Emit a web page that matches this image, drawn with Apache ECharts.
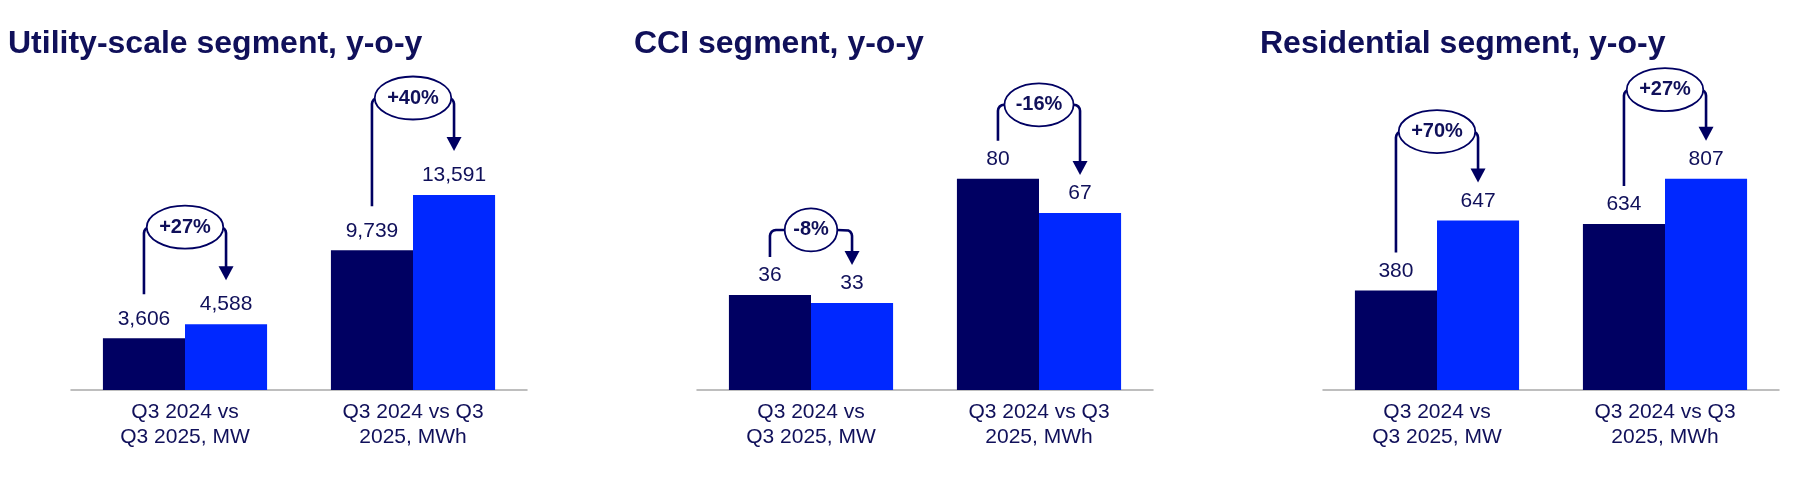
<!DOCTYPE html>
<html>
<head>
<meta charset="utf-8">
<script src="https://cdn.jsdelivr.net/npm/echarts@6/dist/echarts.min.js"></script>
<style>
  html, body { margin: 0; padding: 0; background: #fff; }
  #main { width: 1800px; height: 478px; }
</style>
</head>
<body>
<div id="main"></div>
<script>
// data
const titles = ['Utility-scale segment, y-o-y', 'CCI segment, y-o-y', 'Residential segment, y-o-y'];
const categories = ['Q3 2024 vs\nQ3 2025, MW', 'Q3 2024 vs Q3\n2025, MWh'];
const q3_2024 = [[3606, 9739], [36, 80], [380, 634]];
const q3_2025 = [[4588, 13591], [33, 67], [647, 807]];
const changes = [['+27%', '+40%'], ['-8%', '-16%'], ['+70%', '+27%']];
const yMax = [23000, 125, 1260];

// layout / style
const NAVY = '#000062';
const BLUE = '#0028ff';
const TEXT = '#10105a';
const FONT = "'Liberation Sans', Arial, sans-serif";
const gridLeft = [71, 697, 1323];
const gridW = 456;
const calloutLift = [[97, 97], [65, 74], [89, 89]]; // ellipse centre above taller bar, px
const calloutGap = [44, 38, 38];                    // where lines stop above bar top, px

const chart = echarts.init(document.getElementById('main'));

const grid = [], xAxis = [], yAxis = [], series = [];
for (let p = 0; p < 3; p++) {
  grid.push({ left: gridLeft[p], width: gridW, top: 60, bottom: 88 });
  xAxis.push({
    type: 'category',
    gridIndex: p,
    data: categories,
    axisTick: { show: false },
    axisLine: { lineStyle: { color: '#a9a9a9', width: 1.5 } },
    axisLabel: {
      interval: 0,
      margin: 10,
      fontSize: 21,
      lineHeight: 25,
      color: TEXT,
      fontFamily: FONT
    }
  });
  yAxis.push({ type: 'value', gridIndex: p, min: 0, max: yMax[p], show: false });

  const label = {
    show: true,
    position: 'top',
    distance: 9,
    fontSize: 21,
    lineHeight: 21,
    color: TEXT,
    fontFamily: FONT,
    formatter: (d) => echarts.format.addCommas(d.value)
  };
  series.push({
    type: 'bar', name: 'Q3 2024', xAxisIndex: p, yAxisIndex: p,
    data: q3_2024[p], barWidth: '36%', barGap: '0%',
    itemStyle: { color: NAVY }, label: label
  });
  series.push({
    type: 'bar', name: 'Q3 2025', xAxisIndex: p, yAxisIndex: p,
    data: q3_2025[p], barWidth: '36%', barGap: '0%',
    itemStyle: { color: BLUE }, label: label
  });
}

chart.setOption({
  animation: false,
  grid: grid,
  xAxis: xAxis,
  yAxis: yAxis,
  series: series
});

// titles + the y-o-y callouts (bracket, ellipse, arrow)
function buildGraphic() {
  const g = [];
  const ctx = document.createElement('canvas').getContext('2d');
  ctx.font = 'bold 20px ' + FONT;

  for (let p = 0; p < 3; p++) {
    g.push({
      type: 'text',
      style: {
        x: gridLeft[p] - 63, y: 44,
        text: titles[p],
        font: 'bold 32px ' + FONT,
        fill: TEXT,
        verticalAlign: 'middle'
      }
    });

    const bw = gridW / categories.length * 0.36;
    for (let c = 0; c < categories.length; c++) {
      const cx = chart.convertToPixel({ xAxisIndex: p }, c);
      const yA = chart.convertToPixel({ yAxisIndex: p }, q3_2024[p][c]);
      const yB = chart.convertToPixel({ yAxisIndex: p }, q3_2025[p][c]);
      const x1 = cx - bw / 2, x2 = cx + bw / 2;
      const cy = Math.min(yA, yB) - calloutLift[p][c];
      const rx = ctx.measureText(changes[p][c]).width * 0.74;
      const ry = 21.5;
      const r = 6, ah = 14, aw = 7.5;
      const bottom1 = yA - calloutGap[p];
      const tip = yB - calloutGap[p];

      // left leg with rounded corner
      const left = [[x1, bottom1], [x1, cy + r]];
      for (let k = 1; k <= 4; k++) {
        const a = Math.PI - k * Math.PI / 8;
        left.push([x1 + r + r * Math.cos(a), cy + r - r * Math.sin(a)]);
      }
      left.push([Math.max(cx - rx, x1 + r), cy]);
      g.push({ type: 'polyline', z: 10, shape: { points: left },
        style: { stroke: NAVY, lineWidth: 2.6, fill: null } });

      // right leg with rounded corner down to arrow
      const right = [[Math.min(cx + rx, x2 - r), cy]];
      for (let k = 1; k <= 4; k++) {
        const a = Math.PI / 2 - k * Math.PI / 8;
        right.push([x2 - r + r * Math.cos(a), cy + r - r * Math.sin(a)]);
      }
      right.push([x2, tip - ah + 1]);
      g.push({ type: 'polyline', z: 10, shape: { points: right },
        style: { stroke: NAVY, lineWidth: 2.6, fill: null } });

      g.push({ type: 'polygon', z: 10,
        shape: { points: [[x2 - aw, tip - ah], [x2 + aw, tip - ah], [x2, tip]] },
        style: { fill: NAVY } });

      g.push({ type: 'ellipse', z: 11, shape: { cx: cx, cy: cy, rx: rx, ry: ry },
        style: { fill: '#fff', stroke: NAVY, lineWidth: 1.8 } });
      g.push({ type: 'text', z: 12,
        style: {
          x: cx, y: cy, text: changes[p][c],
          font: 'bold 20px ' + FONT, fill: TEXT,
          align: 'center', verticalAlign: 'middle'
        } });
    }
  }
  return g;
}

chart.setOption({ graphic: buildGraphic() });
</script>
</body>
</html>
